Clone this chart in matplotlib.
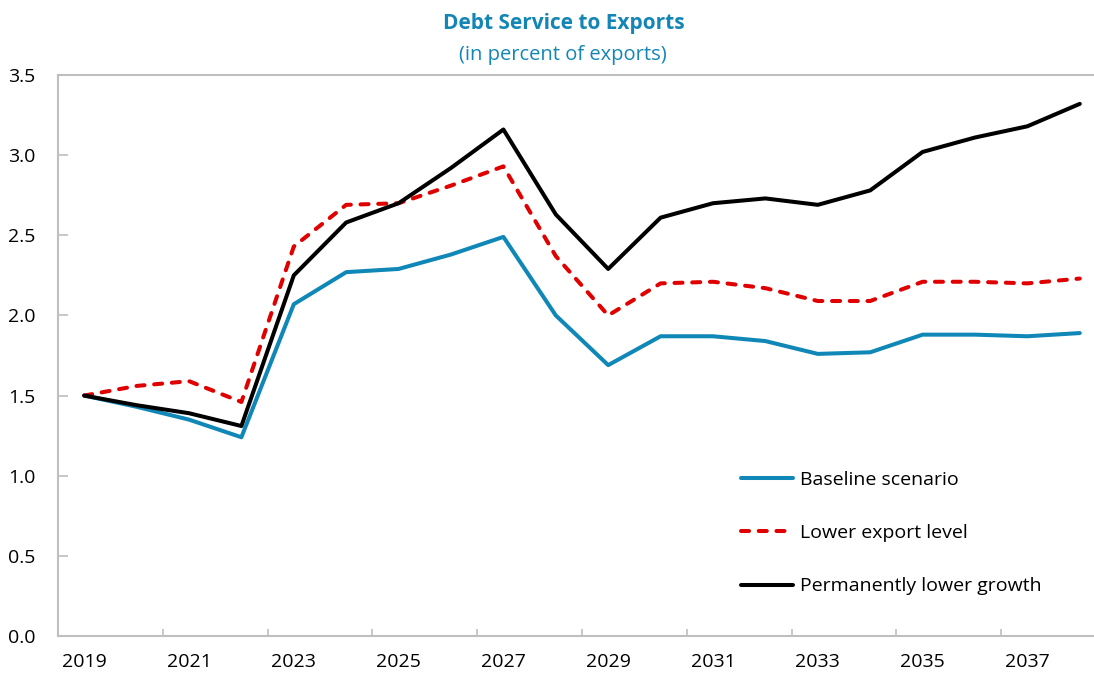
import matplotlib
matplotlib.use('Agg')
import matplotlib.pyplot as plt
import numpy as np

BLUE  = "#0F87B7"
RED   = "#E00000"
BLACK = "#000000"
GRAY  = "#BFBFBF"
TITLE = "#1386B7"

plt.rcParams.update({
    "font.family": ["Open Sans", "DejaVu Sans"],
    "figure.dpi": 100,
})

years = list(range(2019, 2039))
baseline = [1.50, 1.43, 1.35, 1.24, 2.07, 2.27, 2.29, 2.38, 2.49, 2.00,
            1.69, 1.87, 1.87, 1.84, 1.76, 1.77, 1.88, 1.88, 1.87, 1.89]
lower_export = [1.50, 1.56, 1.59, 1.46, 2.43, 2.69, 2.70, 2.81, 2.93, 2.37,
                2.00, 2.20, 2.21, 2.17, 2.09, 2.09, 2.21, 2.21, 2.20, 2.23]
lower_growth = [1.50, 1.44, 1.39, 1.31, 2.25, 2.58, 2.70, 2.92, 3.16, 2.63,
                2.29, 2.61, 2.70, 2.73, 2.69, 2.78, 3.02, 3.11, 3.18, 3.32]

fig = plt.figure(figsize=(10.94, 6.79))
ax = fig.add_axes([58/1094, 43/679, 1048/1094, 561/679])

x = np.arange(len(years))
ax.plot(x, baseline, color=BLUE, lw=2.9, label='Baseline scenario',
        solid_capstyle='round', solid_joinstyle='round', zorder=3)
ax.plot(x, lower_export, color=RED, lw=2.9, label='Lower export level',
        dashes=(2.0, 2.4), dash_capstyle='round', dash_joinstyle='round', zorder=4)
ax.plot(x, lower_growth, color=BLACK, lw=2.9, label='Permanently lower growth',
        solid_capstyle='round', solid_joinstyle='round', zorder=5)

ax.set_xlim(-0.5, len(years) - 0.5)
ax.set_ylim(0, 3.5)
ax.set_yticks(np.arange(0, 3.51, 0.5))
ax.set_yticklabels([f'{v:.1f}' for v in np.arange(0, 3.51, 0.5)])

# labels every other year, tick marks on category boundaries
ax.set_xticks(x[::2])
ax.set_xticklabels([str(y) for y in years[::2]])
ax.set_xticks(np.arange(1.5, len(years) - 1, 2), minor=True)
ax.tick_params(axis='x', which='major', length=0, pad=12, labelsize=14)
ax.tick_params(axis='x', which='minor', direction='in', length=5, width=1.2, color=GRAY)
ax.tick_params(axis='y', direction='in', length=7, width=1.2, color=GRAY, pad=16, labelsize=14)

for s in ax.spines.values():
    s.set_color(GRAY)
    s.set_linewidth(1.5)

ax.legend(loc='lower left', bbox_to_anchor=(0.642, 0.055), frameon=False, fontsize=14,
          handlelength=2.7, handletextpad=0.35, labelspacing=1.82, borderpad=0)

fig.text(564/1094, 1 - 24/679, 'Debt Service to Exports', ha='center', va='center',
         fontsize=15, fontweight='bold', color=TITLE)
fig.text(563/1094, 1 - 55/679, '(in percent of exports)', ha='center', va='center',
         fontsize=14.5, color=TITLE)

fig.savefig('out.png', dpi=100)
